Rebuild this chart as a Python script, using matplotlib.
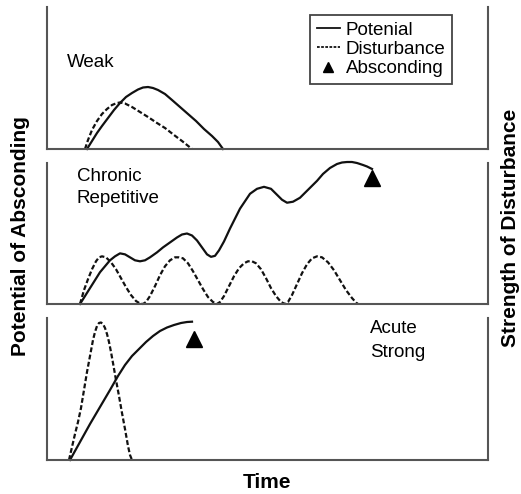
import matplotlib.pyplot as plt
from matplotlib.lines import Line2D

plt.rcParams['font.family'] = ['Liberation Sans', 'DejaVu Sans']

# values (time units, level units)
weak_pot_t = [40, 45, 50, 55, 61, 67, 73, 79, 85, 91, 96, 101, 106, 111, 118, 125, 133, 141, 149, 157, 165, 171, 176]
weak_pot_v = [0, 8, 16, 23, 31, 39, 46, 52, 56, 59.5, 61.5, 62, 61, 59, 55, 49, 42, 35, 28, 20, 13, 7, 0]
weak_dist_t = [38, 41, 45, 50, 55, 60, 65, 70, 73, 78, 85, 93, 101, 110, 118, 127, 135, 140, 145]
weak_dist_v = [0, 9, 19, 28, 35, 40, 44, 46, 46.5, 45.5, 42, 37, 32, 26, 21, 14, 8, 4, 0]

chron_pot_t = [33, 38, 43, 48, 53, 58, 63, 68, 73, 78, 83, 88, 93, 98, 103, 110, 116, 123, 130, 135,
               140, 145, 150, 155, 160, 164, 168, 172, 177, 183, 193, 203, 210, 217, 224, 230, 235, 240,
               246, 253, 263, 270, 276, 283, 290, 295, 300, 305, 310, 316, 320, 325]
chron_pot_v = [0, 8, 16, 24, 32, 38, 44, 48, 51, 50, 47, 44, 43, 44, 47, 52, 57, 62, 67, 70,
               71, 69, 64, 57, 50, 47.5, 48.5, 54, 63, 76, 96, 111, 116, 118, 116, 110, 105, 102,
               103, 107, 117, 124, 131, 137, 141, 142.5, 143, 143, 142, 140, 138.5, 136]
chron_dist_t = [33, 37, 41, 45, 49, 52, 55, 59, 64, 69, 74, 79, 84, 89, 93,
                96, 99, 103, 108, 113, 118, 123, 128, 132, 136, 141, 146, 151, 156, 161, 166,
                170, 173, 177, 182, 187, 192, 197, 201, 205, 209, 214, 219, 224, 229, 234,
                238, 241, 245, 250, 255, 260, 265, 270, 275, 281, 287, 293, 299, 305, 309, 311]
chron_dist_v = [0, 14, 25, 35, 43, 47, 48, 47, 42, 35, 26, 17, 9, 3, 0.5,
                0, 2, 8, 18, 29, 38, 44, 47, 47, 46, 41, 33, 24, 15, 7, 2,
                0, 2, 8, 18, 28, 36, 41, 43, 43, 41, 35, 26, 16, 8, 2,
                0, 2, 9, 20, 31, 40, 46, 48, 47, 42, 34, 24, 14, 6, 1.5, 0]

acute_pot_t = [23, 33, 43, 53, 63, 71, 78, 85, 92, 99, 106, 113, 120, 127, 134, 140, 145]
acute_pot_v = [0, 18, 36, 53, 70, 84, 95, 104, 111, 118, 124, 129, 132.5, 135, 137, 138, 138.3]
acute_dist_t = [22, 25, 28, 31, 34, 37, 40, 43, 46, 48, 50, 52, 54, 56, 58, 60, 62, 64, 66, 69, 72, 75, 78, 81, 83, 85]
acute_dist_v = [0, 13, 26, 38, 52, 70, 88, 104, 120, 128, 134, 137, 137.5, 136, 132, 126, 118, 108, 97, 80, 64, 47, 31, 14, 5, 0]

abscond_chron = (325, 127)
abscond_acute = (147, 121)

W, H = 521, 494
fig = plt.figure(figsize=(W / 100, H / 100), dpi=100)

spine_col = '#555555'
line_col = '#111111'
dash = (0, (2.2, 1.1))
fs = 13.5

def panel(bottom_px, height_px):
    ax = fig.add_axes([47 / W, (H - bottom_px) / H, 441 / W, height_px / H])
    ax.set_xlim(0, 441)
    ax.set_ylim(0, 142)
    ax.set_xticks([])
    ax.set_yticks([])
    ax.spines['top'].set_visible(False)
    for s in ('left', 'right', 'bottom'):
        ax.spines[s].set_color(spine_col)
        ax.spines[s].set_linewidth(1.5)
    return ax

ax1 = panel(149, 142)
ax2 = panel(304, 141)
ax3 = panel(460, 142)

ax1.plot(weak_pot_t, weak_pot_v, color=line_col, lw=1.6, clip_on=False)
ax1.plot(weak_dist_t, weak_dist_v, color=line_col, lw=1.6, ls=dash, clip_on=False)
ax1.text(20, 82, 'Weak', fontsize=fs)

ax2.plot(chron_pot_t, chron_pot_v, color=line_col, lw=1.6, clip_on=False)
ax2.plot(chron_dist_t, chron_dist_v, color=line_col, lw=1.6, ls=dash, clip_on=False)
ax2.plot(*abscond_chron, marker='^', color='black', markersize=12, clip_on=False)
ax2.text(30, 124, 'Chronic', fontsize=fs)
ax2.text(30, 102, 'Repetitive', fontsize=fs)

ax3.plot(acute_pot_t, acute_pot_v, color=line_col, lw=1.6, clip_on=False)
ax3.plot(acute_dist_t, acute_dist_v, color=line_col, lw=1.6, ls=dash, clip_on=False)
ax3.plot(*abscond_acute, marker='^', color='black', markersize=12, clip_on=False)
ax3.text(323, 127, 'Acute', fontsize=fs)
ax3.text(323, 103, 'Strong', fontsize=fs)

handles = [Line2D([], [], color=line_col, lw=1.3),
           Line2D([], [], color=line_col, lw=1.3, ls=(0, (1.5, 0.8))),
           Line2D([], [], color='black', marker='^', ls='none', markersize=7)]
leg = ax1.legend(handles, ['Potenial', 'Disturbance', 'Absconding'],
                 loc='upper left', bbox_to_anchor=(310 / W, 1 - 15 / H),
                 bbox_transform=fig.transFigure, borderaxespad=0,
                 fontsize=fs, handlelength=1.25, handletextpad=0.3,
                 labelspacing=0.12, borderpad=0.35, fancybox=False, framealpha=1)
leg.get_frame().set_edgecolor('#444444')
leg.get_frame().set_linewidth(1.3)

fig.text(21 / W, 1 - 236 / H, 'Potential of Absconding', rotation=90,
         ha='center', va='center', fontsize=15, fontweight='bold')
fig.text(510 / W, 1 - 228 / H, 'Strength of Disturbance', rotation=90,
         ha='center', va='center', fontsize=15, fontweight='bold')
fig.text(267 / W, 1 - 482 / H, 'Time', ha='center', va='center',
         fontsize=15, fontweight='bold')

fig.savefig('out.png', dpi=100)
